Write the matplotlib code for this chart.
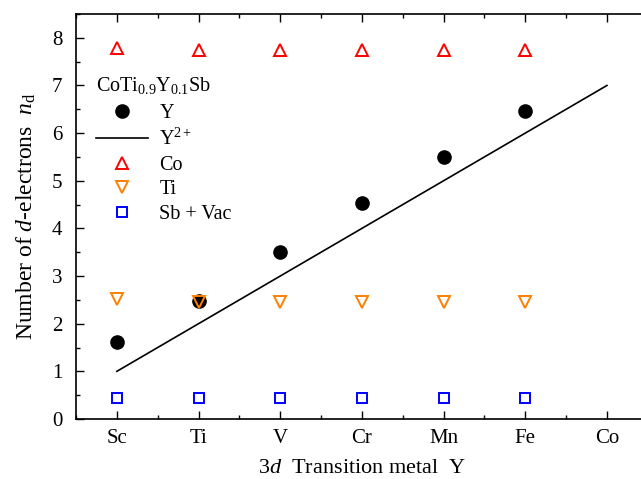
import numpy as np
import matplotlib.pyplot as plt
from matplotlib.ticker import MultipleLocator

plt.rcParams['font.family'] = ['Liberation Serif', 'DejaVu Serif']
plt.rcParams['mathtext.fontset'] = 'custom'
plt.rcParams['mathtext.rm'] = 'Liberation Serif'
plt.rcParams['mathtext.it'] = 'Liberation Serif:italic'
plt.rcParams['font.size'] = 15

# data
metals = ['Sc', 'Ti', 'V', 'Cr', 'Mn', 'Fe', 'Co']
x_pos = [1, 2, 3, 4, 5, 6]
nd_Y = [1.62, 2.47, 3.50, 4.54, 5.50, 6.46]
nd_Co = [7.78, 7.75, 7.74, 7.74, 7.74, 7.74]
nd_Ti = [2.52, 2.45, 2.45, 2.45, 2.45, 2.45]
nd_SbVac = [0.45, 0.43, 0.43, 0.43, 0.43, 0.43]
ion_x = [1, 7]
ion_nd = [1, 7]  # Y2+ reference line

fig = plt.figure(figsize=(6.41, 4.79), dpi=100)
ax = fig.add_axes([0.1186, 0.1253, 0.892, 0.8455])

ax.plot(x_pos, nd_Y, 'o', color='black', markersize=9.5, label='Y')
ax.plot(ion_x, ion_nd, '-', color='black', linewidth=1.2, label=r'Y$^{2+}$')
ax.plot(x_pos, nd_Co, '^', mfc='none', mec='#ff0000', mew=1.4, markersize=8.5, label='Co')
ax.plot(x_pos, nd_Ti, 'v', mfc='none', mec='#ff8000', mew=1.4, markersize=8.5, label='Ti')
ax.plot(x_pos, nd_SbVac, 's', mfc='none', mec='#0000ff', mew=1.4, markersize=6.5, label='Sb + Vac')

ax.set_xlim(0.5, 7.5)
ax.set_ylim(0, 8.5)
ax.set_xticks(range(1, 8))
ax.set_xticklabels(metals)
ax.xaxis.set_minor_locator(MultipleLocator(0.5))
ax.yaxis.set_major_locator(MultipleLocator(1))
ax.yaxis.set_minor_locator(MultipleLocator(0.5))
ax.tick_params(which='both', direction='in', top=True, right=False, labelsize=15)
ax.tick_params(which='major', length=6, width=1)
ax.tick_params(which='minor', length=3, width=1)
ax.tick_params(axis='x', pad=7)
ax.tick_params(axis='y', pad=10)
ax.spines['right'].set_visible(False)
for s in ax.spines.values():
    s.set_linewidth(1.2)

ax.set_xlabel(r'3$\it{d}$  Transition metal  Y', fontsize=16, labelpad=8)
ax.set_ylabel(r'Number of $\it{d}$-electrons  $\it{n}_{\rm d}$', fontsize=17, labelpad=10)

leg = ax.legend(loc='upper left', bbox_to_anchor=(0.01, 0.885), frameon=False,
                title=r'CoTi$_{0.9}$Y$_{0.1}$Sb', title_fontsize=14.5, fontsize=14.5,
                alignment='left', handlelength=2.6, labelspacing=0.28, handletextpad=0.55,
                borderpad=0.2)
leg._legend_box.sep = 6

fig.savefig('out.png', dpi=100)
